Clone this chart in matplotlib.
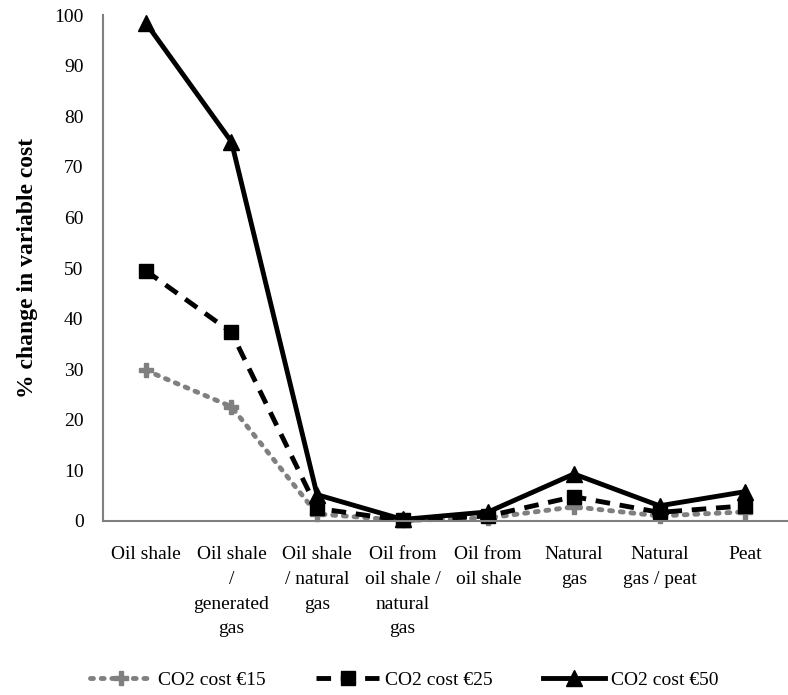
import numpy as np
import matplotlib
matplotlib.use("Agg")
import matplotlib.pyplot as plt

plt.rcParams['font.family'] = ['Liberation Serif', 'DejaVu Serif']

categories = ["Oil shale", "Oil shale\n/\ngenerated\ngas", "Oil shale\n/ natural\ngas",
              "Oil from\noil shale /\nnatural\ngas", "Oil from\noil shale", "Natural\ngas",
              "Natural\ngas / peat", "Peat"]
co2_15 = [29.8, 22.6, 1.4, 0.1, 0.6, 2.8, 1.0, 1.8]
co2_25 = [49.5, 37.3, 2.5, 0.1, 1.0, 4.8, 1.7, 3.0]
co2_50 = [98.5, 75.0, 5.2, 0.3, 1.8, 9.3, 3.0, 5.8]
y_ticks = [0, 10, 20, 30, 40, 50, 60, 70, 80, 90, 100]

fig = plt.figure(figsize=(7.88, 6.95), dpi=100)
ax = fig.add_axes([0.1307, 0.2504, 0.8693, 0.7276])

x = np.arange(len(categories))
grey = "#808080"
ax.plot(x, co2_15, color=grey, linestyle=(0, (0.6, 1.6)), linewidth=3.5,
        dash_capstyle='round', marker='P', markersize=10, label="CO2 cost €15")
ax.plot(x, co2_25, color="black", linestyle=(0, (3, 2)), linewidth=3.5,
        marker='s', markersize=10, label="CO2 cost €25")
ax.plot(x, co2_50, color="black", linestyle='-', linewidth=3.5,
        marker='^', markersize=12, label="CO2 cost €50")

ax.set_xlim(-0.5, len(categories) - 0.5)
ax.set_ylim(0, 100)
ax.set_yticks(y_ticks)
ax.set_xticks(x)
ax.set_xticklabels(categories, fontsize=14, linespacing=1.6, va='top')
ax.tick_params(axis='both', length=0, labelsize=14)
ax.tick_params(axis='x', pad=18)
ax.tick_params(axis='y', pad=14)
ax.set_ylabel("% change in variable cost", fontsize=17, fontweight='bold', labelpad=12)

for side in ['top', 'right']:
    ax.spines[side].set_visible(False)
for side in ['left', 'bottom']:
    ax.spines[side].set_color(grey)
    ax.spines[side].set_linewidth(1.5)
for line in ax.lines:
    line.set_clip_on(False)

fig.legend(loc='center', bbox_to_anchor=(0.513, 0.022), ncol=3, frameon=False,
           fontsize=14, handlelength=3.2, columnspacing=2.6, handletextpad=0.3)

fig.savefig("out.png", dpi=100)
